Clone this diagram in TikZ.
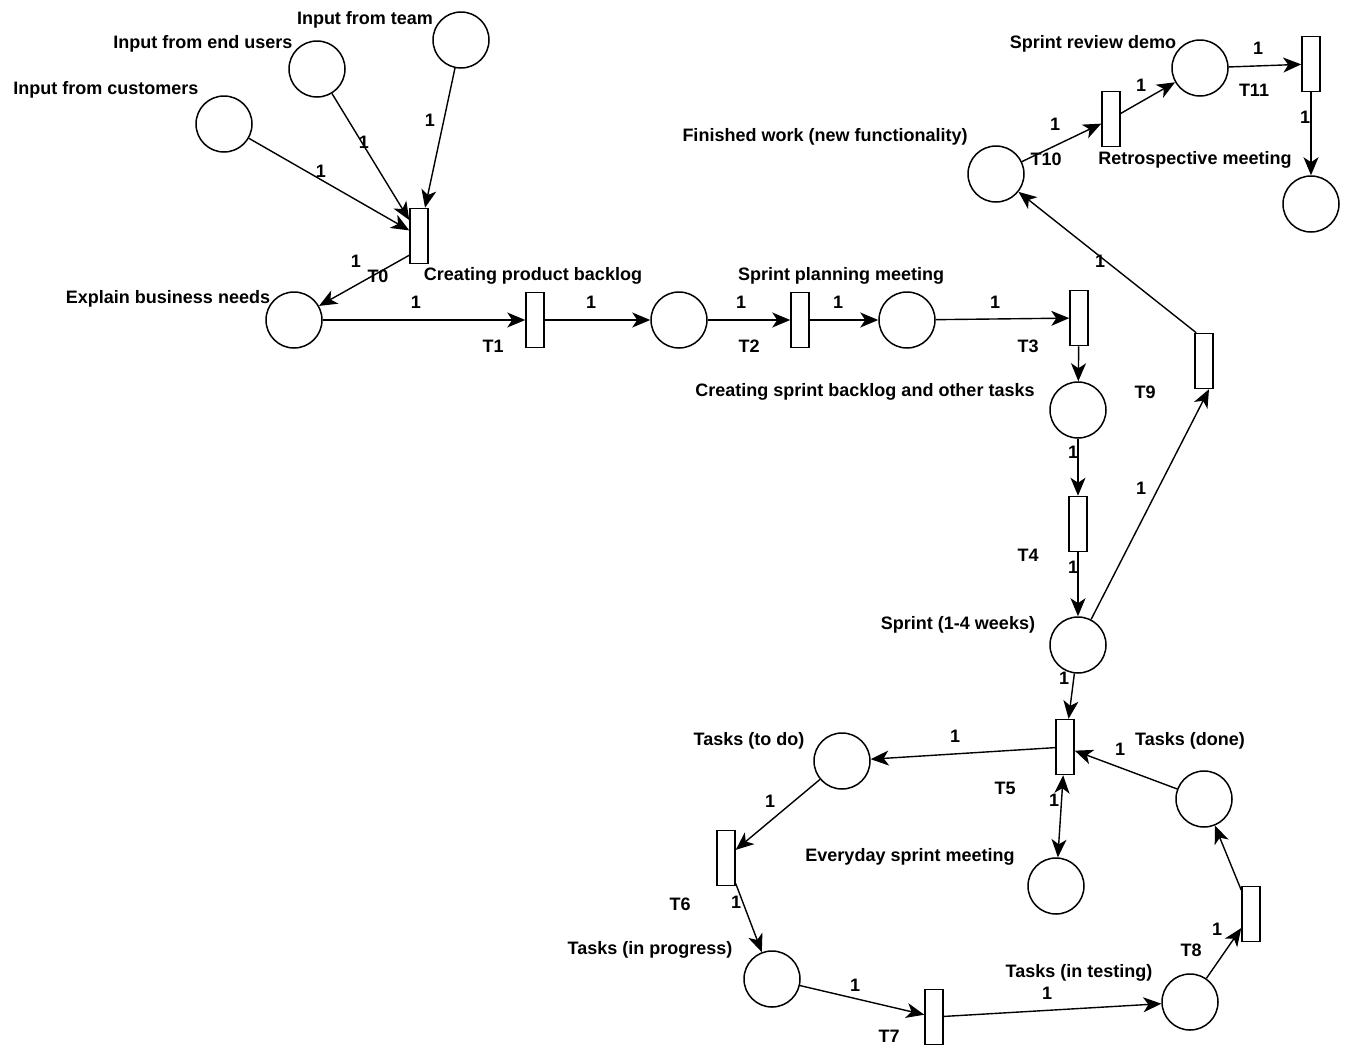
\documentclass[tikz,border=0pt]{standalone}
\usepackage{fontspec}
\setmainfont{Liberation Sans}
\usetikzlibrary{arrows.meta}

\tikzset{
  place/.style={draw=black,line width=1.5pt,circle,minimum size=56pt,inner sep=0pt},
  trans/.style={draw=black,line width=1.5pt,rectangle,minimum width=18pt,minimum height=55pt,inner sep=0pt},
  tip/.tip={Stealth[length=18pt,width=15pt,inset=5pt]},
  arc/.style={draw=black,line width=1.4pt,-tip},
  lbl/.style={font=\fontsize{18}{20}\selectfont\bfseries,inner sep=0pt},
  wt/.style={font=\fontsize{18}{20}\selectfont\bfseries,inner sep=0pt}
}

\begin{document}
\begin{tikzpicture}[x=1pt,y=-1pt]
\useasboundingbox (0,0) rectangle (1350,1047);
% places:
\node[place] (team) at (461,40) {};
\node[place] (users) at (317,69) {};
\node[place] (cust) at (224,124) {};
\node[place] (needs) at (294,320) {};
\node[place] (pback) at (679,320) {};
\node[place] (plan) at (907,320) {};
\node[place] (sback) at (1078,410) {};
\node[place] (sprint) at (1078,645) {};
\node[place] (todo) at (842,761) {};
\node[place] (prog) at (772,979) {};
\node[place] (test) at (1190,1002) {};
\node[place] (done) at (1204,799) {};
\node[place] (daily) at (1056,886) {};
\node[place] (fin) at (996,174) {};
\node[place] (demo) at (1200,68) {};
\node[place] (retro) at (1311,204) {};
% transitions:
\node[trans] (T0) at (419,236) {};
\node[trans] (T1) at (535,320) {};
\node[trans] (T2) at (800,320) {};
\node[trans] (T3) at (1079,318) {};
\node[trans] (T4) at (1078,524) {};
\node[trans] (T5) at (1065,747) {};
\node[trans] (T6) at (726,858) {};
\node[trans] (T7) at (934,1017) {};
\node[trans] (T8) at (1251,914) {};
\node[trans] (T9) at (1204,361) {};
\node[trans] (T10) at (1111,119) {};
\node[trans] (T11) at (1311,64) {};
% arcs:
\path[arc] (cust) -- (T0);
\path[arc] (users) -- (T0);
\path[arc] (team) -- (T0);
\path[arc] ([yshift=9pt]T0.south west) -- (needs);
\path[arc] (needs) -- (T1);
\path[arc] (T1) -- (pback);
\path[arc] (pback) -- (T2);
\path[arc] (T2) -- (plan);
\path[arc] (plan) -- (T3);
\path[arc] (T3) -- (sback);
\path[arc] (sback) -- (T4);
\path[arc] (T4) -- (sprint);
\path[arc] (sprint) -- (T9.-80);
\path[arc] ([xshift=2pt]T9.north west) -- (fin);
\path[arc] (fin) -- (T10);
\path[arc] (T10) -- (demo);
\path[arc] (demo) -- (T11);
\path[arc] (T11) -- (retro);
\path[arc] (sprint) -- (T5);
\path[arc] (T5) -- (todo);
\path[arc] (done) -- (T5);
\path[arc,tip-tip] (T5) -- (daily);
\path[arc] (todo) -- (T6);
\path[arc] (T6) -- (prog);
\path[arc] (prog) -- (T7);
\path[arc] (T7) -- (test);
\path[arc] (test) -- (T8);
\path[arc] (T8) -- (done);
% place labels:
\node[lbl] (lteam) at (365,20) {Input from team};
\node[lbl] (lusers) at (203,44) {Input from end users};
\node[lbl] (lcust) at (106,90) {Input from customers};
\node[lbl] (lneeds) at (168,299) {Explain business needs};
\node[lbl] (lpback) at (533,276) {Creating product backlog};
\node[lbl] (lplan) at (841,276) {Sprint planning meeting};
\node[lbl] (lsback) at (865,392) {Creating sprint backlog and other tasks};
\node[lbl] (lsprint) at (958,625) {Sprint (1-4 weeks)};
\node[lbl] (ltodo) at (749,741) {Tasks (to do)};
\node[lbl] (ldone) at (1190,741) {Tasks (done)};
\node[lbl] (ldaily) at (910,857) {Everyday sprint meeting};
\node[lbl] (lprog) at (650,950) {Tasks (in progress)};
\node[lbl] (ltest) at (1079,973) {Tasks (in testing)};
\node[lbl] (lfin) at (825,137) {Finished work (new functionality)};
\node[lbl] (ldemo) at (1093,44) {Sprint review demo};
\node[lbl] (lretro) at (1195,160) {Retrospective meeting};
% transition labels:
\node[lbl] (lT0) at (378,276) {T0};
\node[lbl] (lT1) at (493,346) {T1};
\node[lbl] (lT2) at (749,346) {T2};
\node[lbl] (lT3) at (1028,346) {T3};
\node[lbl] (lT4) at (1028,555) {T4};
\node[lbl] (lT5) at (1005,788) {T5};
\node[lbl] (lT6) at (680,904) {T6};
\node[lbl] (lT7) at (889,1036) {T7};
\node[lbl] (lT8) at (1191,950) {T8};
\node[lbl] (lT9) at (1145,392) {T9};
\node[lbl] (lT10) at (1046,159) {T10};
\node[lbl] (lT11) at (1254,90) {T11};
% weights:
\node[wt] (w1) at (430,120) {1};
\node[wt] (w2) at (364,142) {1};
\node[wt] (w3) at (321,171) {1};
\node[wt] (w4) at (356,261) {1};
\node[wt] (w5) at (416,302) {1};
\node[wt] (w6) at (591,302) {1};
\node[wt] (w7) at (741,302) {1};
\node[wt] (w8) at (838,302) {1};
\node[wt] (w9) at (995,302) {1};
\node[wt] (w10) at (1073,452) {1};
\node[wt] (w11) at (1073,567) {1};
\node[wt] (w12) at (1141,488) {1};
\node[wt] (w13) at (1100,261) {1};
\node[wt] (w14) at (1055,124) {1};
\node[wt] (w15) at (1141,85) {1};
\node[wt] (w16) at (1258,48) {1};
\node[wt] (w17) at (1305,117) {1};
\node[wt] (w18) at (1064,678) {1};
\node[wt] (w19) at (955,736) {1};
\node[wt] (w20) at (1120,749) {1};
\node[wt] (w21) at (1054,800) {1};
\node[wt] (w22) at (770,801) {1};
\node[wt] (w23) at (736,902) {1};
\node[wt] (w24) at (855,985) {1};
\node[wt] (w25) at (1047,993) {1};
\node[wt] (w26) at (1217,929) {1};
\end{tikzpicture}
\end{document}
